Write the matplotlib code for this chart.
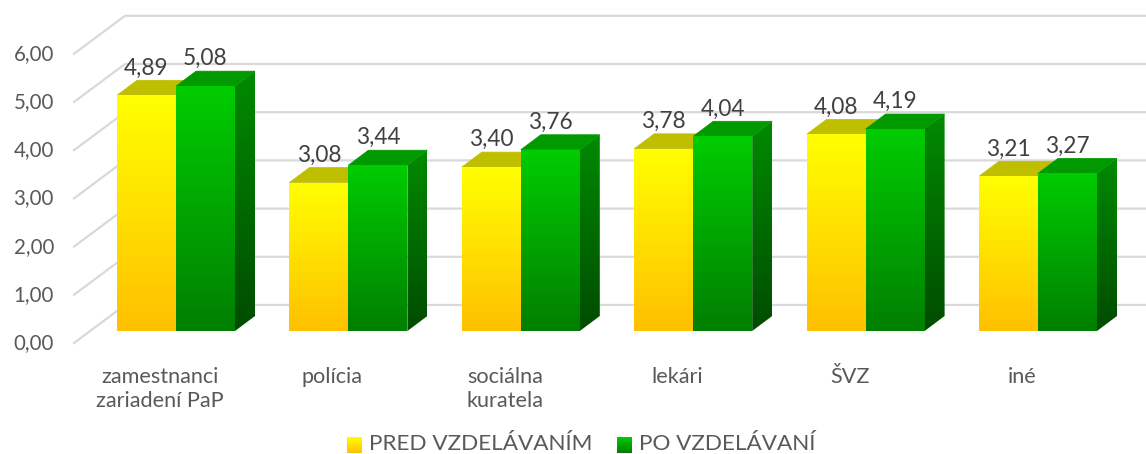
import numpy as np
import matplotlib
matplotlib.use("Agg")
import matplotlib.pyplot as plt
from matplotlib.patches import Polygon
from matplotlib.colors import LinearSegmentedColormap

### Data ###
categories = ["zamestnanci\nzariadení PaP", "polícia", "sociálna\nkuratela", "lekári", "ŠVZ", "iné"]
pred = [4.89, 3.08, 3.40, 3.78, 4.08, 3.21]
po = [5.08, 3.44, 3.76, 4.04, 4.19, 3.27]
series_names = ["PRED VZDELÁVANÍM", "PO VZDELÁVANÍ"]
yticks = [0, 1, 2, 3, 4, 5, 6]

### Look ###
plt.rcParams['font.family'] = ['Lato', 'DejaVu Sans']
W, H = 1146, 454
px_x = 172.4   # pixels per category
px_y = 48.2    # pixels per unit
x0_px, y0_px = 176, 331   # first group centre / bar baseline in pixels

bar_w = 59 / px_x
dep_x = 20 / px_x
dep_y = 15 / px_y
front_dy = (331 - 343) / px_y
back_dy = (331 - 305) / px_y
front_x = (74 - x0_px) / px_x
back_x = (125 - x0_px) / px_x

yel_front = ("#FFFF00", "#FFC000")
yel_top = "#BFBF00"
grn_front = ("#00CC00", "#007F00")
grn_side = ("#008A00", "#004C00")
grn_top = "#009900"


def px2data(px, py):
    return (px - x0_px) / px_x, (y0_px - py) / px_y


def grad_poly(ax, pts, c_top, c_bot, z):
    pts = np.array(pts)
    poly = Polygon(pts, closed=True, facecolor="none", edgecolor="none")
    ax.add_patch(poly)
    cmap = LinearSegmentedColormap.from_list("g", [c_bot, c_top])
    img = np.linspace(1, 0, 100).reshape(-1, 1)
    im = ax.imshow(img, cmap=cmap, aspect="auto", origin="upper",
                   extent=[pts[:, 0].min(), pts[:, 0].max(), pts[:, 1].min(), pts[:, 1].max()],
                   zorder=z, interpolation="bilinear")
    im.set_clip_path(poly)


def flat_poly(ax, pts, color, z):
    ax.add_patch(Polygon(pts, closed=True, facecolor=color, edgecolor=color, lw=0.5, zorder=z))


fig = plt.figure(figsize=(W / 100, H / 100), dpi=100)
ax = fig.add_axes([0, 0, 1, 1])
xl = px2data(0, H)
xr = px2data(W, 0)
ax.set_xlim(xl[0], xr[0])
ax.set_ylim(xl[1], xr[1])
ax.axis("off")

# gridlines (front-left diagonal + back wall)
for t in yticks:
    ax.plot([front_x, back_x, xr[0]], [t + front_dy, t + back_dy, t + back_dy],
            color="#D9D9D9", lw=1.6, zorder=1, solid_joinstyle="miter")
    ax.text(px2data(54, 0)[0], t + front_dy, f"{t:.2f}".replace(".", ","),
            ha="right", va="center", fontsize=14.8, color="#595959")

# bars
for i in range(len(categories)):
    z = 3 + i * 0.01
    # yellow
    xa, xb, v = i - bar_w, i, pred[i]
    flat_poly(ax, [(xa, v), (xb, v), (xb + dep_x, v + dep_y), (xa + dep_x, v + dep_y)], yel_top, z)
    grad_poly(ax, [(xa, 0), (xb, 0), (xb, v), (xa, v)], yel_front[0], yel_front[1], z + 0.001)
    ax.text((xa + xb) / 2, v + dep_y + 0.04, f"{v:.2f}".replace(".", ","),
            ha="center", va="bottom", fontsize=16.3, color="#404040", zorder=6)
    # green
    xa, xb, v = i, i + bar_w, po[i]
    grad_poly(ax, [(xb, 0), (xb + dep_x, dep_y), (xb + dep_x, v + dep_y), (xb, v)],
              grn_side[0], grn_side[1], z + 0.002)
    flat_poly(ax, [(xa, v), (xb, v), (xb + dep_x, v + dep_y), (xa + dep_x, v + dep_y)], grn_top, z + 0.003)
    grad_poly(ax, [(xa, 0), (xb, 0), (xb, v), (xa, v)], grn_front[0], grn_front[1], z + 0.004)
    ax.text((xa + xb) / 2, v + dep_y + 0.04, f"{v:.2f}".replace(".", ","),
            ha="center", va="bottom", fontsize=16.3, color="#404040", zorder=6)

# category labels
lab_y = px2data(0, 367)[1]
for i, c in enumerate(categories):
    ax.text(i - 16 / px_x, lab_y, c, ha="center", va="top", fontsize=15.6,
            color="#595959", linespacing=1.22)

# legend
leg = [(347, series_names[0], yel_front), (617, series_names[1], grn_front)]
for lx, name, cols in leg:
    a = px2data(lx, 453)
    b = px2data(lx + 15, 437)
    grad_poly(ax, [(a[0], a[1]), (b[0], a[1]), (b[0], b[1]), (a[0], b[1])], cols[0], cols[1], 5)
    t = px2data(lx + 22, 444)
    ax.text(t[0], t[1], name, ha="left", va="center", fontsize=16.2, color="#595959")

fig.savefig("out.png", dpi=100)
